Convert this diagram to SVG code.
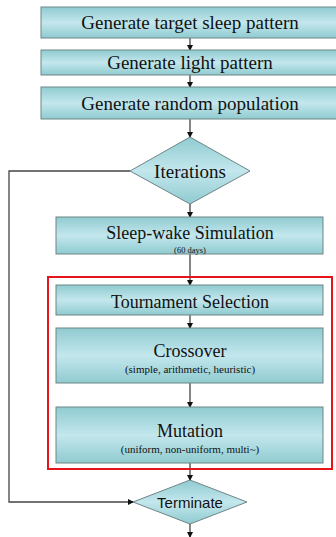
<svg xmlns="http://www.w3.org/2000/svg" width="336" height="537" viewBox="0 0 336 537">
<style>
.box{fill:url(#g);stroke:#6f8586;stroke-width:1}
.t{font-family:'Liberation Serif','Times New Roman','DejaVu Serif',serif;fill:#111;text-anchor:middle}
.s{font-family:'Liberation Sans',Arial,sans-serif;fill:#111;text-anchor:middle}
.c{fill:none;stroke:#444;stroke-width:1.3}
</style>
<defs>
<linearGradient id="g" x1="0" y1="0" x2="0" y2="1">
<stop offset="0" stop-color="#8fcbd0"/>
<stop offset="0.5" stop-color="#c3e7ed"/>
<stop offset="1" stop-color="#8fcbd0"/>
</linearGradient>
<marker id="a" markerWidth="6" markerHeight="6" refX="5" refY="3" orient="auto" markerUnits="userSpaceOnUse">
<path d="M0,0 L6,3 L0,6 z" fill="#111"/>
</marker>
</defs>
<g id="connectors">
<line class="c" x1="190" y1="38" x2="190" y2="50" marker-end="url(#a)"/>
<line class="c" x1="190" y1="75" x2="190" y2="87" marker-end="url(#a)"/>
<line class="c" x1="190" y1="119" x2="190" y2="137" marker-end="url(#a)"/>
<line class="c" x1="190" y1="204" x2="190" y2="217" marker-end="url(#a)"/>
<line class="c" x1="190" y1="254" x2="190" y2="285" marker-end="url(#a)"/>
<line class="c" x1="190" y1="315" x2="190" y2="328" marker-end="url(#a)"/>
<line class="c" x1="190" y1="383" x2="190" y2="407" marker-end="url(#a)"/>
<line class="c" x1="190" y1="463" x2="190" y2="480" marker-end="url(#a)"/>
<line class="c" x1="190" y1="524" x2="190" y2="537" marker-end="url(#a)"/>
<polyline class="c" points="130,171 9,171 9,502 133,502" marker-end="url(#a)"/>
</g>
<g id="group-ga">
<rect x="48" y="277" width="284" height="192" fill="none" stroke="#e8141c" stroke-width="2"/>
</g>
<g id="n1"><rect class="box" x="41" y="7" width="300" height="31"/><text class="t" x="190" y="29" font-size="19">Generate target sleep pattern</text></g>
<g id="n2"><rect class="box" x="41" y="50" width="300" height="25"/><text class="t" x="190" y="69" font-size="19">Generate light pattern</text></g>
<g id="n3"><rect class="box" x="41" y="87" width="300" height="32"/><text class="t" x="190" y="110" font-size="19">Generate random population</text></g>
<g id="n4"><polygon class="box" points="190,137 250,171 190,204 130,171"/><text class="t" x="190" y="178" font-size="19">Iterations</text></g>
<g id="n5"><rect class="box" x="56" y="217" width="267" height="37"/><text class="t" x="190" y="239" font-size="18">Sleep-wake Simulation</text><text class="t" x="190" y="252.5" font-size="8.5">(60 days)</text></g>
<g id="n6"><rect class="box" x="56" y="285" width="267" height="30"/><text class="t" x="190" y="308" font-size="18">Tournament Selection</text></g>
<g id="n7"><rect class="box" x="56" y="328" width="267" height="55"/><text class="t" x="190" y="357" font-size="18">Crossover</text><text class="t" x="190" y="373" font-size="11">(simple, arithmetic, heuristic)</text></g>
<g id="n8"><rect class="box" x="56" y="407" width="267" height="56"/><text class="t" x="190" y="437" font-size="18">Mutation</text><text class="t" x="190" y="453" font-size="11">(uniform, non-uniform, multi~)</text></g>
<g id="n9"><polygon class="box" points="190,480 247,502 190,524 133,502"/><text class="s" x="190" y="508" font-size="15">Terminate</text></g>
</svg>
